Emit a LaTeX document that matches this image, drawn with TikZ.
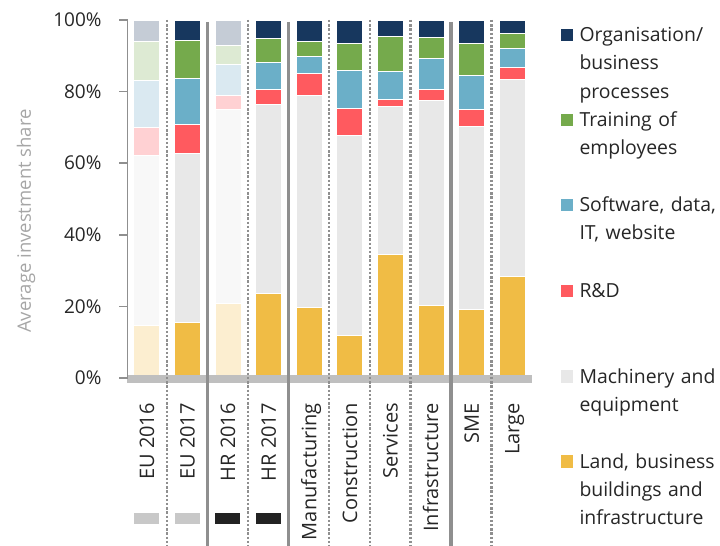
\documentclass[tikz,border=0pt]{standalone}
\usepackage{fontspec}
\setmainfont{Open Sans}
\usetikzlibrary{positioning}
\definecolor{orgc}{HTML}{17375E}
\definecolor{trainc}{HTML}{75AA4C}
\definecolor{softc}{HTML}{6BAFC8}
\definecolor{rdc}{HTML}{FF5A5F}
\definecolor{machc}{HTML}{E8E8E8}
\definecolor{landc}{HTML}{F0BC45}
\definecolor{orgf}{HTML}{C5CCD6}
\definecolor{trainf}{HTML}{DDEAD3}
\definecolor{softf}{HTML}{DAE9F1}
\definecolor{rdf}{HTML}{FFD1D3}
\definecolor{machf}{HTML}{F8F8F8}
\definecolor{landf}{HTML}{FCEED0}
\definecolor{txtc}{HTML}{262626}
\definecolor{axisc}{HTML}{8F8F8F}
\definecolor{basec}{HTML}{BFBFBF}
\definecolor{titlec}{HTML}{A6A6A6}
\definecolor{eumark}{HTML}{C8C8C8}
\definecolor{hrmark}{HTML}{222222}
\tikzset{
  seg/.style={draw=white, line width=0.8pt},
  solidsep/.style={axisc, line width=3.3pt},
  dotsep/.style={axisc, line width=2.5pt, dash pattern=on 2.4pt off 1.8pt},
  axisline/.style={axisc, line width=1.5pt},
  ticklabel/.style={anchor=east, inner sep=0pt, text=txtc, font=\fontsize{19}{22}\selectfont},
  catlabel/.style={rotate=90, anchor=base east, inner sep=0pt, text=txtc, font=\fontsize{20}{23}\selectfont},
  legtext/.style={anchor=base west, align=left, text width=140pt, inner sep=0pt, text=txtc, font=\fontsize{19.4}{28.3}\selectfont},
  legbox/.style={minimum size=12.6pt, inner sep=0pt}
}

\begin{document}
\begin{tikzpicture}[x=1pt,y=1pt]
  \useasboundingbox (0,0) rectangle (720,546);
  \begin{scope}[yshift=168pt, y=3.58pt]
    \draw [seg, fill=landf] (133.5,0) rectangle (159.5,14.6);
    \draw [seg, fill=machf] (133.5,14.6) rectangle (159.5,62.1);
    \draw [seg, fill=rdf] (133.5,62.1) rectangle (159.5,70.0);
    \draw [seg, fill=softf] (133.5,70.0) rectangle (159.5,83.2);
    \draw [seg, fill=trainf] (133.5,83.2) rectangle (159.5,94.1);
    \draw [seg, fill=orgf] (133.5,94.1) rectangle (159.5,100);
    \draw [seg, fill=landc] (174,0) rectangle (200,15.4);
    \draw [seg, fill=machc] (174,15.4) rectangle (200,62.6);
    \draw [seg, fill=rdc] (174,62.6) rectangle (200,70.7);
    \draw [seg, fill=softc] (174,70.7) rectangle (200,83.7);
    \draw [seg, fill=trainc] (174,83.7) rectangle (200,94.3);
    \draw [seg, fill=orgc] (174,94.3) rectangle (200,100);
    \draw [seg, fill=landf] (215,0) rectangle (241,20.9);
    \draw [seg, fill=machf] (215,20.9) rectangle (241,75.1);
    \draw [seg, fill=rdf] (215,75.1) rectangle (241,79.0);
    \draw [seg, fill=softf] (215,79.0) rectangle (241,87.6);
    \draw [seg, fill=trainf] (215,87.6) rectangle (241,92.9);
    \draw [seg, fill=orgf] (215,92.9) rectangle (241,100);
    \draw [seg, fill=landc] (255.5,0) rectangle (281.5,23.7);
    \draw [seg, fill=machc] (255.5,23.7) rectangle (281.5,76.5);
    \draw [seg, fill=rdc] (255.5,76.5) rectangle (281.5,80.6);
    \draw [seg, fill=softc] (255.5,80.6) rectangle (281.5,88.2);
    \draw [seg, fill=trainc] (255.5,88.2) rectangle (281.5,94.8);
    \draw [seg, fill=orgc] (255.5,94.8) rectangle (281.5,100);
    \draw [seg, fill=landc] (296,0) rectangle (322,19.7);
    \draw [seg, fill=machc] (296,19.7) rectangle (322,78.8);
    \draw [seg, fill=rdc] (296,78.8) rectangle (322,85.1);
    \draw [seg, fill=softc] (296,85.1) rectangle (322,89.9);
    \draw [seg, fill=trainc] (296,89.9) rectangle (322,94.0);
    \draw [seg, fill=orgc] (296,94.0) rectangle (322,100);
    \draw [seg, fill=landc] (336.5,0) rectangle (362.5,11.9);
    \draw [seg, fill=machc] (336.5,11.9) rectangle (362.5,67.8);
    \draw [seg, fill=rdc] (336.5,67.8) rectangle (362.5,75.3);
    \draw [seg, fill=softc] (336.5,75.3) rectangle (362.5,85.8);
    \draw [seg, fill=trainc] (336.5,85.8) rectangle (362.5,93.6);
    \draw [seg, fill=orgc] (336.5,93.6) rectangle (362.5,100);
    \draw [seg, fill=landc] (377,0) rectangle (403,34.5);
    \draw [seg, fill=machc] (377,34.5) rectangle (403,75.9);
    \draw [seg, fill=rdc] (377,75.9) rectangle (403,77.8);
    \draw [seg, fill=softc] (377,77.8) rectangle (403,85.7);
    \draw [seg, fill=trainc] (377,85.7) rectangle (403,95.5);
    \draw [seg, fill=orgc] (377,95.5) rectangle (403,100);
    \draw [seg, fill=landc] (418,0) rectangle (444,20.3);
    \draw [seg, fill=machc] (418,20.3) rectangle (444,77.5);
    \draw [seg, fill=rdc] (418,77.5) rectangle (444,80.5);
    \draw [seg, fill=softc] (418,80.5) rectangle (444,89.3);
    \draw [seg, fill=trainc] (418,89.3) rectangle (444,95.2);
    \draw [seg, fill=orgc] (418,95.2) rectangle (444,100);
    \draw [seg, fill=landc] (458.5,0) rectangle (484.5,19.3);
    \draw [seg, fill=machc] (458.5,19.3) rectangle (484.5,70.3);
    \draw [seg, fill=rdc] (458.5,70.3) rectangle (484.5,75.1);
    \draw [seg, fill=softc] (458.5,75.1) rectangle (484.5,84.4);
    \draw [seg, fill=trainc] (458.5,84.4) rectangle (484.5,93.4);
    \draw [seg, fill=orgc] (458.5,93.4) rectangle (484.5,100);
    \draw [seg, fill=landc] (499,0) rectangle (525,28.4);
    \draw [seg, fill=machc] (499,28.4) rectangle (525,83.3);
    \draw [seg, fill=rdc] (499,83.3) rectangle (525,86.8);
    \draw [seg, fill=softc] (499,86.8) rectangle (525,92.0);
    \draw [seg, fill=trainc] (499,92.0) rectangle (525,96.3);
    \draw [seg, fill=orgc] (499,96.3) rectangle (525,100);
  \end{scope}
  \fill [basec] (126.7,163.3) rectangle (532.3,171);
  \draw [solidsep] (207.4,524) -- (207.4,0);
  \draw [solidsep] (288.6,524) -- (288.6,0);
  \draw [solidsep] (451,524) -- (451,0);
  \draw [dotsep] (166.8,526) -- (166.8,0);
  \draw [dotsep] (248,526) -- (248,0);
  \draw [dotsep] (329.2,526) -- (329.2,0);
  \draw [dotsep] (369.8,526) -- (369.8,0);
  \draw [dotsep] (410.4,526) -- (410.4,0);
  \draw [dotsep] (491.6,526) -- (491.6,0);
  \draw [axisline] (127.7,526) -- (127.7,168);
  \draw [axisline] (119,168) -- (127.7,168);
  \draw [axisline] (119,239.6) -- (127.7,239.6);
  \draw [axisline] (119,311.2) -- (127.7,311.2);
  \draw [axisline] (119,382.8) -- (127.7,382.8);
  \draw [axisline] (119,454.4) -- (127.7,454.4);
  \draw [axisline] (119,526) -- (127.7,526);
  \node [ticklabel] (t0) at (101.7,168) {0\%};
  \node [ticklabel] (t20) at (101.7,239.6) {20\%};
  \node [ticklabel] (t40) at (101.7,311.2) {40\%};
  \node [ticklabel] (t60) at (101.7,382.8) {60\%};
  \node [ticklabel] (t80) at (101.7,454.4) {80\%};
  \node [ticklabel] (t100) at (101.7,526) {100\%};
  \node [rotate=90, anchor=base, text=titlec, font=\fontsize{18.5}{21}\selectfont] (ytitle) at (31,325) {Average investment share};
  \node [catlabel] (eu16) at (154,143) {EU 2016};
  \node [catlabel] (eu17) at (194.6,143) {EU 2017};
  \node [catlabel] (hr16) at (235.2,143) {HR 2016};
  \node [catlabel] (hr17) at (275.8,143) {HR 2017};
  \node [catlabel] (manu) at (316.4,143) {Manufacturing};
  \node [catlabel] (cons) at (357,143) {Construction};
  \node [catlabel] (serv) at (397.6,143) {Services};
  \node [catlabel] (infra) at (438.2,143) {Infrastructure};
  \node [catlabel] (sme) at (478.8,143) {SME};
  \node [catlabel] (large) at (519.4,143) {Large};
  \fill [eumark] (134,21.7) rectangle (159,33.3);
  \fill [eumark] (174.6,21.7) rectangle (199.6,33.3);
  \fill [hrmark] (215.2,21.7) rectangle (240.2,33.3);
  \fill [hrmark] (255.8,21.7) rectangle (280.8,33.3);
  \node [legtext] (lorg) at (579.3,504.3) {Organisation/\\business\\processes};
  \node [legbox, fill=orgc] (korg) at ([xshift=-12.5pt, yshift=6.7pt]lorg.base west) {};
  \node [legtext] (ltrain) at (579.3,419.3) {Training of\\employees};
  \node [legbox, fill=trainc] (ktrain) at ([xshift=-12.5pt, yshift=6.7pt]ltrain.base west) {};
  \node [legtext] (lsoft) at (579.3,334.3) {Software, data,\\IT, website};
  \node [legbox, fill=softc] (ksoft) at ([xshift=-12.5pt, yshift=6.7pt]lsoft.base west) {};
  \node [legtext] (lrd) at (579.3,248.3) {R\&D};
  \node [legbox, fill=rdc] (krd) at ([xshift=-12.5pt, yshift=6.7pt]lrd.base west) {};
  \node [legtext] (lmach) at (579.3,162.6) {Machinery and\\equipment};
  \node [legbox, fill=machc] (kmach) at ([xshift=-12.5pt, yshift=6.7pt]lmach.base west) {};
  \node [legtext] (lland) at (579.3,77.6) {Land, business\\buildings and\\infrastructure};
  \node [legbox, fill=landc] (kland) at ([xshift=-12.5pt, yshift=6.7pt]lland.base west) {};
\end{tikzpicture}
\end{document}
